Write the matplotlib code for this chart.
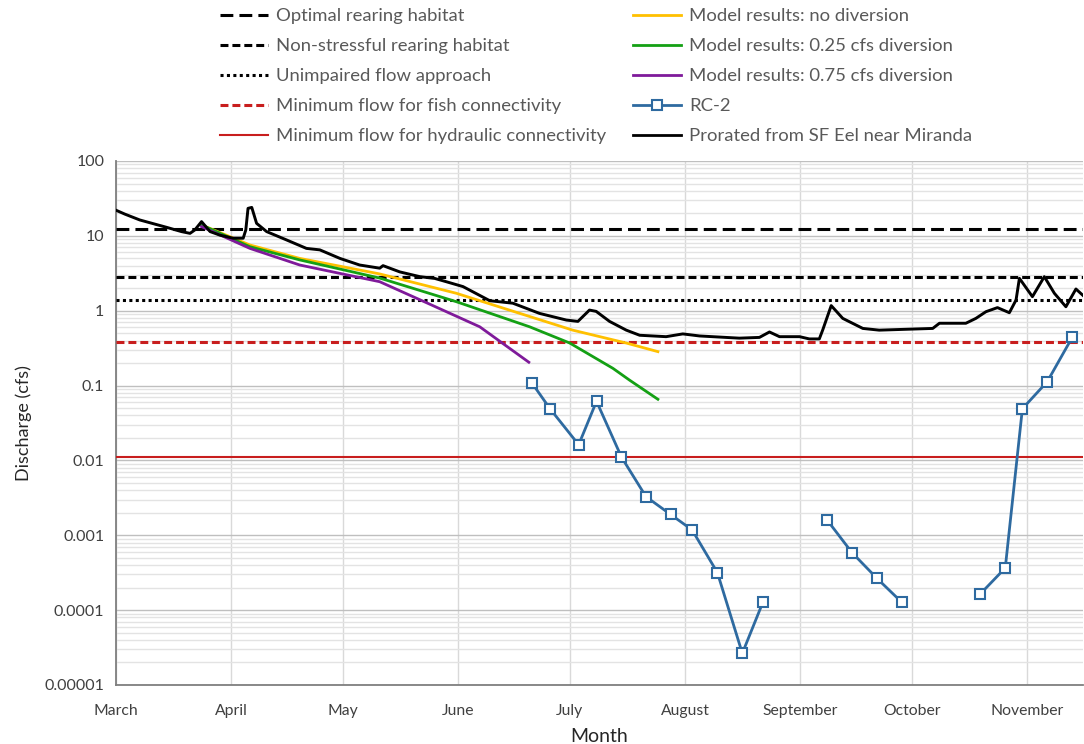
import matplotlib
matplotlib.use("Agg")
import matplotlib.pyplot as plt
from matplotlib.lines import Line2D
from matplotlib.ticker import LogLocator, NullFormatter, FixedLocator

plt.rcParams['font.family'] = ['Lato', 'DejaVu Sans']

# ---------------- data ----------------
month_days = [0, 31, 61, 92, 122, 153, 184, 214, 245]
month_labels = ["March", "April", "May", "June", "July", "August",
                "September", "October", "November"]

ytick_vals = [1e-5, 1e-4, 1e-3, 1e-2, 1e-1, 1, 10, 100]
ytick_labels = ["0.00001", "0.0001", "0.001", "0.01", "0.1", "1", "10", "100"]

optimal_rearing = 12.5
non_stressful = 2.8
unimpaired = 1.4
min_fish = 0.38
min_hydraulic = 0.011

no_div_days = [23, 36, 49.4, 70.9, 91.5, 122.8, 137.2, 145.7]
no_div_vals = [14, 7.55, 5.0, 3.1, 1.71, 0.55, 0.37, 0.284]

div025_days = [23, 36, 49.4, 70.9, 91.5, 111.2, 122, 133.6, 138.1, 145.7]
div025_vals = [14, 7.16, 4.77, 2.73, 1.32, 0.61, 0.37, 0.17, 0.118, 0.0656]

div075_days = [23, 36, 49.4, 70.9, 84.4, 97.8, 111]
div075_vals = [13.3, 6.8, 4.08, 2.44, 1.22, 0.61, 0.205]

rc2_days = [111.8, 116.7, 124.4, 129.2, 135.9, 142.5, 149.1, 154.9, 161.7, 168.4, 174.0,
            None,
            191.2, 197.9, 204.5, 211.3,
            None,
            232.3, 239.1, 243.7, 250.4, 257.1]
rc2_vals = [0.109, 0.049, 0.0162, 0.0617, 0.0111, 0.00328, 0.0019, 0.00118, 0.000317,
            2.65e-5, 0.00013,
            None,
            0.0016, 0.000586, 0.000269, 0.000127,
            None,
            0.000163, 0.000366, 0.049, 0.113, 0.44]

miranda_days = [0, 2.4, 6.4, 13.6, 17.6, 19.9, 21.2, 23.0, 25.3, 28, 31.5, 34.2, 34.9,
                35.5, 36.5, 37.8, 40.5, 45.9, 51.2, 54.8, 60.2, 65.5, 70.9, 71.8, 76.3,
                81.7, 85.7, 88.8, 93.3, 100.5, 106.7, 113.9, 121.1, 124.2, 127.3, 129.1,
                132.7, 137.2, 140.8, 147.9, 152.4, 156.9, 167.6, 173, 175.7, 178.4, 183.8,
                186.4, 189.1, 190.0, 192.3, 195.4, 200.8, 205.2, 219.6, 221.4, 228.5,
                231.2, 233.9, 237.0, 240.2, 242.0, 242.9, 246.4, 249.6, 252.3, 255.4,
                258.1, 260]
miranda_vals = [22, 19.5, 16.3, 13, 11.4, 10.8, 12, 15.5, 11.4, 10.2, 9.3, 9.3, 12,
                23.3, 24, 14.7, 11.4, 8.8, 6.8, 6.5, 5.0, 4.08, 3.7, 4.0, 3.3,
                2.85, 2.7, 2.44, 2.1, 1.36, 1.26, 0.92, 0.75, 0.72, 1.02, 0.98,
                0.72, 0.55, 0.47, 0.45, 0.49, 0.46, 0.43, 0.44, 0.52, 0.45, 0.45,
                0.42, 0.42, 0.55, 1.17, 0.79, 0.58, 0.55, 0.58, 0.68, 0.68,
                0.79, 0.97, 1.1, 0.94, 1.39, 2.71, 1.54, 2.85, 1.71, 1.13,
                1.95, 1.6]

# ---------------- styles ----------------
C_YEL = "#FFC000"
C_GRN = "#14A014"
C_PUR = "#7F1A9A"
C_BLU = "#2E6AA0"
C_RED = "#C81E1E"
LW = 2.2

fig = plt.figure(figsize=(10.84, 7.44), dpi=100)
ax = fig.add_axes([116 / 1084, 1 - 685 / 744, (1083 - 116) / 1084, (685 - 161) / 744])

ax.set_yscale("log")
ax.set_ylim(1e-5, 100)
ax.set_xlim(0, 260)

# reference lines
ax.axhline(optimal_rearing, color="black", lw=LW, ls=(0, (4.2, 2.0)), zorder=3)
ax.axhline(non_stressful, color="black", lw=LW, ls=(0, (2.6, 1.3)), zorder=3)
ax.axhline(unimpaired, color="black", lw=LW, ls=(0, (1.0, 1.1)), zorder=3)
ax.axhline(min_fish, color=C_RED, lw=LW, ls=(0, (2.6, 1.3)), zorder=3)
ax.axhline(min_hydraulic, color=C_RED, lw=1.5, ls="-", zorder=3)

ax.plot(miranda_days, miranda_vals, color="black", lw=2.1, zorder=5)
ax.plot(no_div_days, no_div_vals, color=C_YEL, lw=2.0, zorder=4)
ax.plot(div025_days, div025_vals, color=C_GRN, lw=2.0, zorder=4)
ax.plot(div075_days, div075_vals, color=C_PUR, lw=2.0, zorder=4)

rx = [float('nan') if d is None else d for d in rc2_days]
ry = [float('nan') if v is None else v for v in rc2_vals]
ax.plot(rx, ry, color=C_BLU, lw=2.0, marker="s", ms=6.5, mfc="white",
        mec=C_BLU, mew=1.5, zorder=6)

# grid
ax.xaxis.set_major_locator(FixedLocator(month_days))
ax.set_xticklabels(month_labels)
ax.yaxis.set_major_locator(FixedLocator(ytick_vals))
ax.set_yticklabels(ytick_labels)
ax.yaxis.set_minor_locator(LogLocator(base=10, subs=range(2, 10), numticks=50))
ax.yaxis.set_minor_formatter(NullFormatter())
ax.grid(axis="x", which="major", color="#D9D9D9", lw=1.0)
ax.grid(axis="y", which="major", color="#BFBFBF", lw=1.0)
ax.grid(axis="y", which="minor", color="#E3E3E3", lw=1.0)
ax.set_axisbelow(True)

ax.tick_params(axis="both", which="both", length=0)
ax.tick_params(axis="y", pad=8.5, labelsize=11.5, labelcolor="#404040")
ax.tick_params(axis="x", pad=14, labelsize=11.3, labelcolor="#404040")

for s in ["top", "right"]:
    ax.spines[s].set_visible(False)
for s in ["left", "bottom"]:
    ax.spines[s].set_color("#7F7F7F")
    ax.spines[s].set_linewidth(1.3)

ax.set_xlabel("Month", fontsize=14, color="#262626", labelpad=7)
ax.set_ylabel("Discharge (cfs)", fontsize=13, color="#262626", labelpad=9)

# legend
h1 = [
    Line2D([], [], color="black", lw=LW, ls=(0, (4.2, 2.0))),
    Line2D([], [], color="black", lw=LW, ls=(0, (2.6, 1.3))),
    Line2D([], [], color="black", lw=LW, ls=(0, (1.0, 1.1))),
    Line2D([], [], color=C_RED, lw=LW, ls=(0, (2.6, 1.3))),
    Line2D([], [], color=C_RED, lw=1.5, ls="-"),
]
l1 = ["Optimal rearing habitat", "Non-stressful rearing habitat",
      "Unimpaired flow approach", "Minimum flow for fish connectivity",
      "Minimum flow for hydraulic connectivity"]
h2 = [
    Line2D([], [], color=C_YEL, lw=2.0),
    Line2D([], [], color=C_GRN, lw=2.0),
    Line2D([], [], color=C_PUR, lw=2.0),
    Line2D([], [], color=C_BLU, lw=2.0, marker="s", ms=6.5, mfc="white", mec=C_BLU, mew=1.5),
    Line2D([], [], color="black", lw=2.0),
]
l2 = ["Model results: no diversion", "Model results: 0.25 cfs diversion",
      "Model results: 0.75 cfs diversion", "RC-2", "Prorated from SF Eel near Miranda"]

common = dict(frameon=False, fontsize=13.3, handlelength=2.6, handletextpad=0.42,
              labelspacing=0.76, borderpad=0, borderaxespad=0, labelcolor="#595959")
leg1 = fig.legend(h1, l1, loc="upper left", bbox_to_anchor=(220 / 1084, 1 - 8 / 744), **common)
leg2 = fig.legend(h2, l2, loc="upper left", bbox_to_anchor=(633 / 1084, 1 - 8 / 744), **common)

fig.savefig("out.png", dpi=100)
